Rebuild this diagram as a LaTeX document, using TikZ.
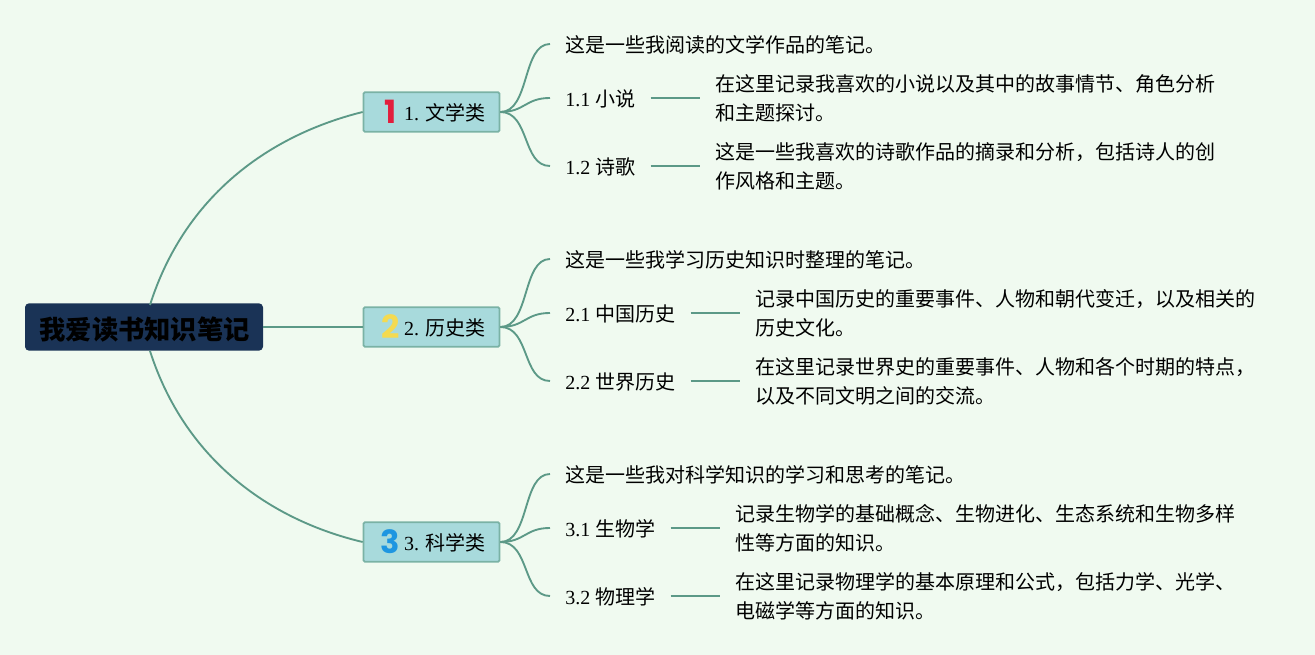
\documentclass[tikz,border=0pt]{standalone}
\usepackage{fontspec}
\setmainfont{Liberation Serif}
\newfontfamily\cjk{Noto Sans CJK SC}
\newfontfamily\icon{Poppins}
\definecolor{pagebg}{RGB}{240,250,240}
\definecolor{rootfill}{RGB}{26,51,86}
\definecolor{boxfill}{RGB}{168,218,220}
\definecolor{boxline}{RGB}{122,178,165}
\definecolor{wire}{RGB}{92,153,135}
\definecolor{iconred}{RGB}{226,30,60}
\definecolor{iconyellow}{RGB}{244,218,80}
\definecolor{iconblue}{RGB}{30,150,225}
\newcommand{\num}[2]{\raisebox{-1.8pt}[0pt][0pt]{\makebox[13pt]{\color{#1}\icon\bfseries\fontsize{24}{24}\selectfont #2}}}
\begin{document}
\begin{tikzpicture}[x=0.75pt,y=-0.75pt]
\tikzstyle{root}=[fill=rootfill,rounded corners=3pt,minimum width=178.5pt,minimum height=35.5pt,inner sep=0pt,text height=19.4pt,text depth=0.6pt,font=\cjk\bfseries\fontsize{19.7}{24}\selectfont,text=black]
\tikzstyle{branch}=[draw=boxline,fill=boxfill,line width=1.3pt,rounded corners=1pt,minimum width=102pt,minimum height=29.5pt,inner sep=0pt,text height=13.5pt,text depth=0.5pt,font=\fontsize{15}{20}\selectfont]
\tikzstyle{leaf}=[anchor=west,inner xsep=11.25pt,inner ysep=0pt,text height=14.5pt,text depth=1pt,font=\fontsize{15}{20}\selectfont]
\tikzstyle{detail}=[anchor=west,align=left,inner xsep=11.25pt,inner ysep=0pt,font=\cjk\fontsize{15}{21.75}\selectfont]
\tikzstyle{wire}=[draw=wire,line width=1.4pt]
\fill[pagebg] (0,0) rectangle (1315,655);
\useasboundingbox (0,0) rectangle (1315,655);
% centre
\node[root] (root) at (144,327) {\hspace{1pt}我爱读书知识笔记};
\coordinate (roottop) at (150,305);
\coordinate (rootbot) at (150,351);
% branches
\node[branch] (b1) at (431.5,112) {\hspace{3.5pt}\num{iconred}{1} 1. {\cjk 文学类}};
\node[branch] (b2) at (431.5,327) {\hspace{3.5pt}\num{iconyellow}{2} 2. {\cjk 历史类}};
\node[branch] (b3) at (431.5,542) {\hspace{3.5pt}\num{iconblue}{3} 3. {\cjk 科学类}};
% first group
\node[leaf] (n1) at (550,44) {\cjk 这是一些我阅读的文学作品的笔记。};
\node[leaf] (l11) at (550,98) {1.1 {\cjk 小说}};
\node[detail] (d11) at (700,98) {在这里记录我喜欢的小说以及其中的故事情节、角色分析\\和主题探讨。};
\node[leaf] (l12) at (550,166) {1.2 {\cjk 诗歌}};
\node[detail] (d12) at (700,166) {这是一些我喜欢的诗歌作品的摘录和分析，包括诗人的创\\作风格和主题。};
% second group
\node[leaf] (n2) at (550,259) {\cjk 这是一些我学习历史知识时整理的笔记。};
\node[leaf] (l21) at (550,313) {2.1 {\cjk 中国历史}};
\node[detail] (d21) at (740,313) {记录中国历史的重要事件、人物和朝代变迁，以及相关的\\历史文化。};
\node[leaf] (l22) at (550,381) {2.2 {\cjk 世界历史}};
\node[detail] (d22) at (740,381) {在这里记录世界史的重要事件、人物和各个时期的特点，\\以及不同文明之间的交流。};
% third group
\node[leaf] (n3) at (550,474) {\cjk 这是一些我对科学知识的学习和思考的笔记。};
\node[leaf] (l31) at (550,528) {3.1 {\cjk 生物学}};
\node[detail] (d31) at (720,528) {记录生物学的基础概念、生物进化、生态系统和生物多样\\性等方面的知识。};
\node[leaf] (l32) at (550,596) {3.2 {\cjk 物理学}};
\node[detail] (d32) at (720,596) {在这里记录物理学的基本原理和公式，包括力学、光学、\\电磁学等方面的知识。};
% connectors
\draw[wire] (roottop) .. controls (185,195) and (270,135) .. (b1.west);
\draw[wire] (root.east) -- (b2.west);
\draw[wire] (rootbot) .. controls (185,460) and (270,520) .. (b3.west);
\draw[wire] (b1.east) .. controls (530,112) and (522,44) .. (n1.west);
\draw[wire] (b1.east) .. controls (525,112) and (525,98) .. (l11.west);
\draw[wire] (b1.east) .. controls (530,112) and (522,166) .. (l12.west);
\draw[wire] (b2.east) .. controls (530,327) and (522,259) .. (n2.west);
\draw[wire] (b2.east) .. controls (525,327) and (525,313) .. (l21.west);
\draw[wire] (b2.east) .. controls (530,327) and (522,381) .. (l22.west);
\draw[wire] (b3.east) .. controls (530,542) and (522,474) .. (n3.west);
\draw[wire] (b3.east) .. controls (525,542) and (525,528) .. (l31.west);
\draw[wire] (b3.east) .. controls (530,542) and (522,596) .. (l32.west);
\draw[wire] (l11.east) -- (d11.west);
\draw[wire] (l12.east) -- (d12.west);
\draw[wire] (l21.east) -- (d21.west);
\draw[wire] (l22.east) -- (d22.west);
\draw[wire] (l31.east) -- (d31.west);
\draw[wire] (l32.east) -- (d32.west);
\end{tikzpicture}
\end{document}
